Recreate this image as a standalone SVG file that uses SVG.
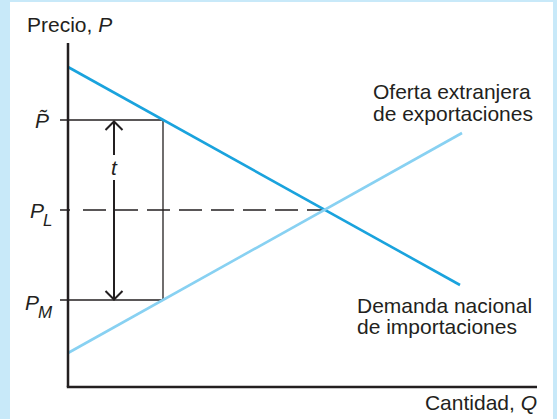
<svg xmlns="http://www.w3.org/2000/svg" width="557" height="419" viewBox="0 0 557 419">
<style>
.lbl{font-family:"Liberation Sans",Arial,sans-serif;font-size:21px;fill:#231f20}
.it{font-style:italic}
.sub{font-size:17px}
.ax{stroke:#231f20;stroke-width:2.5;fill:none}
.thin{stroke:#231f20;stroke-width:1.3;fill:none}
.arr{stroke:#231f20;stroke-width:2;fill:none}
</style>
<rect x="0" y="0" width="557" height="419" fill="#c8e9f9"/>
<rect x="10" y="2" width="543" height="417" fill="#ffffff"/>
<g id="connectors">
<line class="thin" x1="60" y1="120" x2="163" y2="120"/>
<line class="thin" x1="60" y1="300" x2="163" y2="300"/>
<line class="thin" x1="163" y1="120" x2="163" y2="300"/>
<line class="thin" x1="60" y1="210" x2="323" y2="210" stroke-dasharray="10 13 23 9 23 9 23 9 23 9 23 9 23 9 23 9 23 9 23 9"/>
<line x1="68" y1="67" x2="460" y2="285" stroke="#1aa3dd" stroke-width="2.6"/>
<line x1="68" y1="353" x2="462" y2="133" stroke="#88d1f2" stroke-width="2.6"/>
<line class="arr" x1="114" y1="122" x2="114" y2="155"/>
<line class="arr" x1="114" y1="180" x2="114" y2="299"/>
<polyline class="arr" points="105.5,130 114,121.5 122.5,130"/>
<polyline class="arr" points="105.5,291 114,299.5 122.5,291"/>
<line class="ax" x1="68" y1="43" x2="68" y2="387"/>
<line class="ax" x1="66.8" y1="387" x2="537" y2="387"/>
</g>
<g id="axis-labels">
<text class="lbl" x="27" y="32">Precio, <tspan class="it">P</tspan></text>
<text class="lbl" x="537" y="410" text-anchor="end">Cantidad, <tspan class="it">Q</tspan></text>
</g>
<g id="price-labels">
<text class="lbl it" x="35" y="128">P&#x303;</text>
<text class="lbl it" x="30" y="218">P<tspan class="sub" x="43" y="226">L</tspan></text>
<text class="lbl it" x="25" y="310">P<tspan class="sub" x="38" y="318">M</tspan></text>
<text class="lbl it" x="114" y="175" text-anchor="middle">t</text>
</g>
<g id="supply">
<text class="lbl" x="373" y="99">Oferta extranjera</text>
<text class="lbl" x="373" y="121">de exportaciones</text>
</g>
<g id="demand">
<text class="lbl" x="357" y="313">Demanda nacional</text>
<text class="lbl" x="357" y="334">de importaciones</text>
</g>
</svg>
